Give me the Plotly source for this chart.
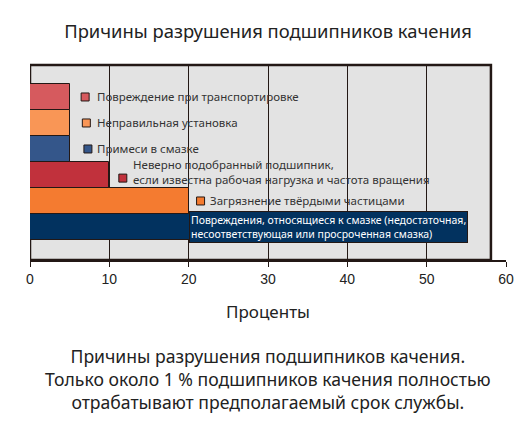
import plotly.graph_objects as go

# data: bottom to top
causes = [
    "Повреждения, относящиеся к смазке (недостаточная,<br>несоответствующая или просроченная смазка)",
    "Загрязнение твёрдыми частицами",
    "Неверно подобранный подшипник,<br>если известна рабочая нагрузка и частота вращения",
    "Примеси в смазке",
    "Неправильная установка",
    "Повреждение при транспортировке",
]
percent = [55, 20, 10, 5, 5, 5]
colors = ["#02325F", "#F47B30", "#C1313C", "#34568A", "#F99656", "#D65A5E"]
x_ticks = [0, 10, 20, 30, 40, 50, 60]
grid_vals = [10, 20, 30, 40, 50]

ypos = list(range(len(causes)))

fig = go.Figure()
fig.add_trace(go.Bar(
    x=percent, y=ypos, orientation="h", width=1,
    marker=dict(color=colors, line=dict(color="#231815", width=1)),
    hoverinfo="skip", showlegend=False,
))

# small squares in front of labels (not for the first one)
mark_x = [None, 21.5, 11.7, 7.3, 7.1, 6.95]
txt_x = [20.1, 22.4, 12.7, 8.2, 8.2, 8.2]
sq_x, sq_y, sq_c = [], [], []
for i in range(len(causes)):
    if mark_x[i] is not None:
        sq_x.append(mark_x[i])
        sq_y.append(ypos[i] - (0.12 if i == 2 else 0))
        sq_c.append(colors[i])
fig.add_trace(go.Scatter(
    x=sq_x, y=sq_y, mode="markers",
    marker=dict(symbol="square", size=8, color=sq_c, line=dict(color="#231815", width=1)),
    hoverinfo="skip", showlegend=False,
))

for i, c in enumerate(causes):
    if i == 0:
        fig.add_annotation(x=txt_x[i], y=ypos[i], text=c, xanchor="left", yanchor="middle",
                           showarrow=False, align="left",
                           font=dict(family="Noto Sans", size=10.5, color="white"),
                           bgcolor="#02325F", bordercolor="#231815", borderwidth=1, borderpad=1)
    else:
        fig.add_annotation(x=txt_x[i], y=ypos[i] + (0.1 if i == 2 else 0), text=c,
                           xanchor="left", yanchor="middle",
                           showarrow=False, align="left",
                           font=dict(family="Noto Sans", size=11.5, color="#333333"))

# grey frame
fig.add_shape(type="rect", xref="x", yref="paper", x0=0, x1=58.1, y0=0, y1=1,
              fillcolor="#E3E3E3", line=dict(color="#231815", width=2.5), layer="below")

# page body has an 8px margin, so everything is set 8px up/left
fig.update_layout(
    width=532, height=428,
    margin=dict(l=22, r=34, t=57, b=176),
    paper_bgcolor="white", plot_bgcolor="white",
    bargap=0,
    title=dict(text="Причины разрушения подшипников качения", x=(268 - 8) / 532, xanchor="center",
               y=1 - 24 / 428, yanchor="middle",
               font=dict(family="Noto Sans", size=18.4, color="#222222")),
    xaxis=dict(range=[0, 60], tickvals=x_ticks, showgrid=False, zeroline=False,
               showline=True, linecolor="#231815", linewidth=1.5,
               ticks="outside", ticklen=5, tickcolor="#231815", automargin=False,
               tickfont=dict(family="Liberation Sans", size=14, color="#222222"),
               title=dict(text="Проценты", font=dict(family="Noto Sans", size=17, color="#222222"),
                          standoff=21),
               minor=dict(tickvals=grid_vals, showgrid=True, gridcolor="#231815",
                          gridwidth=1, ticks="")),
    yaxis=dict(range=[-1.27, 6.23], showticklabels=False, showgrid=False, automargin=False,
               zeroline=False, showline=False, ticks=""),
)

fig.add_annotation(
    xref="paper", yref="paper", x=(268 - 8 - 22) / 476, y=(252 - 334) / 195,
    text="Причины разрушения подшипников качения.<br>"
         "Только около 1 % подшипников качения полностью<br>"
         "отрабатывают предполагаемый срок службы.",
    showarrow=False, xanchor="center", yanchor="top", align="center",
    font=dict(family="Noto Sans", size=17.6, color="#222222"),
)

fig.write_html("out.html")
